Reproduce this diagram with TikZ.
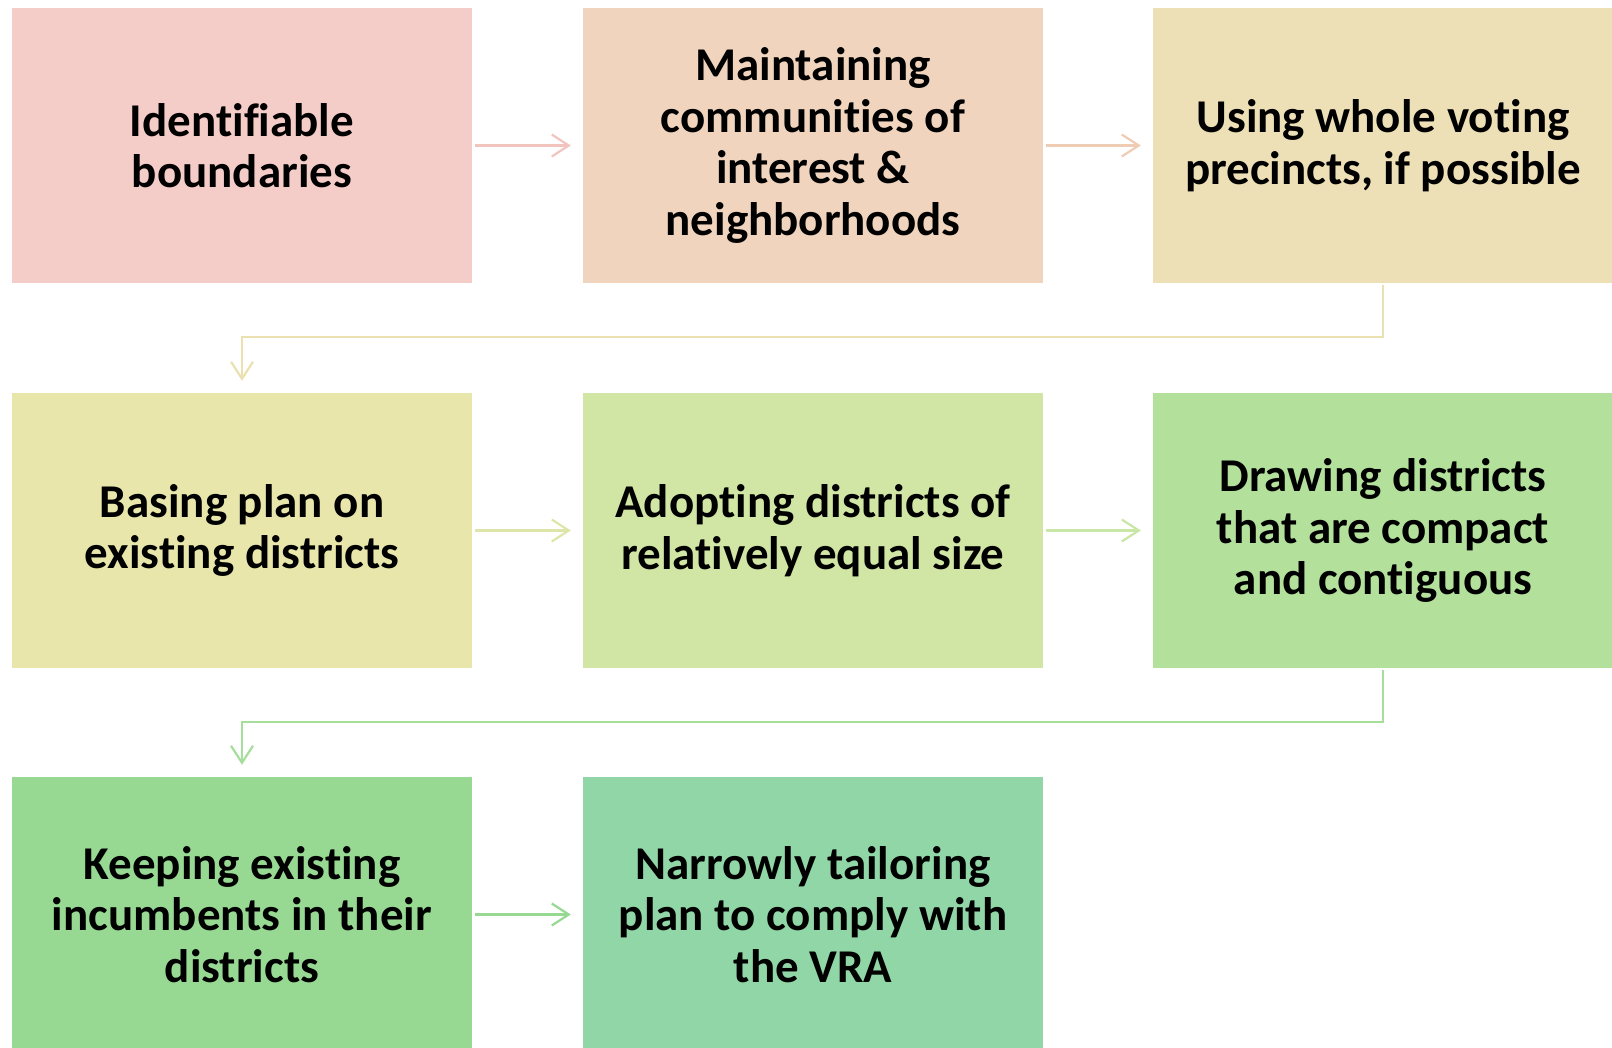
\documentclass[tikz,border=0pt]{standalone}
\usepackage{fontspec}
\setmainfont[Ligatures=NoCommon]{Carlito}
\usetikzlibrary{arrows.meta}
\definecolor{c1}{HTML}{F4CCC8}
\definecolor{c2}{HTML}{F0D4BE}
\definecolor{c3}{HTML}{EDDFB6}
\definecolor{c4}{HTML}{E8E6AB}
\definecolor{c5}{HTML}{D1E5A4}
\definecolor{c6}{HTML}{B3E09B}
\definecolor{c7}{HTML}{97D993}
\definecolor{c8}{HTML}{91D6A6}
\definecolor{a1}{HTML}{F2C4BE}
\definecolor{a2}{HTML}{EFCDB4}
\definecolor{a3}{HTML}{EBE0B0}
\definecolor{a4}{HTML}{DDE6A8}
\definecolor{a5}{HTML}{C8E6A6}
\definecolor{a6}{HTML}{A6DE9C}
\definecolor{a7}{HTML}{97D993}
\tikzset{
  box/.style={rectangle, minimum width=460pt, minimum height=275pt, inner sep=0pt,
    align=center, text=black, font=\fontsize{47}{51.5}\selectfont\bfseries},
  conn/.style={line width=2.2pt, -{Straight Barb[length=17pt,width=22pt,line width=2.2pt]},
    shorten <=3pt, shorten >=12pt},
}
\begin{document}
\begin{tikzpicture}[x=1pt,y=-1pt]
\useasboundingbox (0,0) rectangle (1612,1048);
\node[box, fill=c1] (b1) at (242,145.5) {Identifiable\\boundaries};
\node[box, fill=c2] (b2) at (813,145.5) {Maintaining\\communities of\\interest \&\\neighborhoods};
\node[box, fill=c3] (b3) at (1383,145.5) {Using whole voting\\precincts, if possible};
\node[box, fill=c4] (b4) at (242,530.5) {Basing plan on\\existing districts};
\node[box, fill=c5] (b5) at (813,530.5) {Adopting districts of\\relatively equal size};
\node[box, fill=c6] (b6) at (1383,530.5) {Drawing districts\\that are compact\\and contiguous};
\node[box, fill=c7] (b7) at (242,914.5) {Keeping existing\\incumbents in their\\districts};
\node[box, fill=c8] (b8) at (813,914.5) {Narrowly tailoring\\plan to comply with\\the VRA};
\coordinate (e1) at (1383,337);
\coordinate (e2) at (242,337);
\coordinate (e3) at (1383,722);
\coordinate (e4) at (242,722);
\draw[conn, a1] (b1) -- (b2);
\draw[conn, a2] (b2) -- (b3);
\draw[conn, a3, shorten <=2pt] (b3.south) -- (e1) -- (e2) -- (b4.north);
\draw[conn, a4] (b4) -- (b5);
\draw[conn, a5] (b5) -- (b6);
\draw[conn, a6, shorten <=2pt] (b6.south) -- (e3) -- (e4) -- (b7.north);
\draw[conn, a7] (b7) -- (b8);
\end{tikzpicture}
\end{document}
